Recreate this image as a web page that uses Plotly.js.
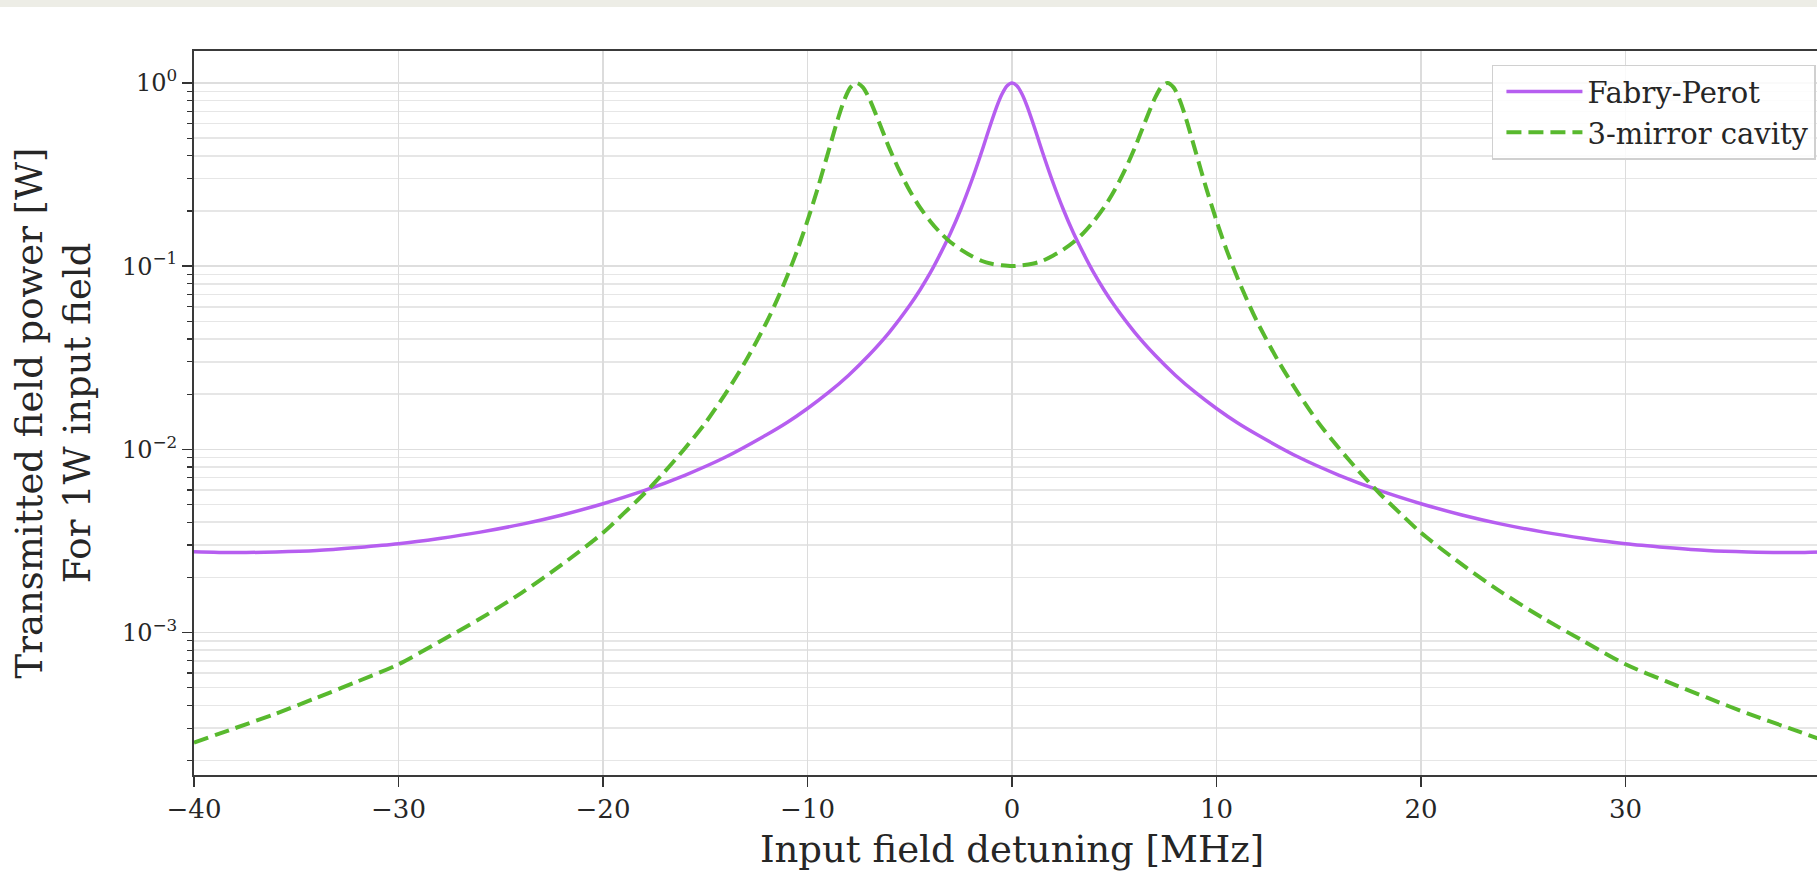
<!DOCTYPE html>
<html>
<head>
<meta charset="utf-8">
<script src="https://cdn.plot.ly/plotly-3.0.1.min.js"></script>
<style>
  html, body { margin: 0; padding: 0; overflow: hidden; background: #ffffff; width: 1817px; height: 892px; }
  #band { position: absolute; left: 0; top: 0; width: 1817px; height: 7px; background: #edede6; z-index: 5; }
  #chart { position: absolute; left: 0; top: 0; width: 1850px; height: 892px; }
</style>
</head>
<body>
<div id="band"></div>
<div id="chart"></div>
<script>
// Detuning (MHz) and transmitted power (W)
const fpDetuning = [-40,-38,-36,-34,-32,-30,-28,-26,-24,-22,-20,-18,-16,-14,-12,-11,-10,-9,-8,-7,-6,-5,-4.5,-4,-3.5,-3,-2.5,-2,-1.5,-1.25,-1,-0.75,-0.5,-0.25,0,0.25,0.5,0.75,1,1.25,1.5,2,2.5,3,3.5,4,4.5,5,6,7,8,9,10,11,12,14,16,18,20,22,24,26,28,30,32,34,36,38,40];
const fpPower = [0.00276,0.00273,0.00275,0.0028,0.00291,0.00305,0.00326,0.00353,0.00389,0.00438,0.00504,0.00594,0.00721,0.00907,0.012,0.014,0.0167,0.0203,0.0253,0.0326,0.0435,0.0611,0.0741,0.0918,0.117,0.152,0.205,0.287,0.416,0.507,0.616,0.741,0.865,0.963,1.0,0.963,0.865,0.741,0.616,0.507,0.416,0.287,0.205,0.152,0.117,0.0918,0.0741,0.0611,0.0435,0.0326,0.0253,0.0203,0.0167,0.014,0.012,0.00907,0.00721,0.00594,0.00504,0.00438,0.00389,0.00353,0.00326,0.00305,0.00291,0.0028,0.00275,0.00273,0.00276];

const cavDetuning = [-40,-38,-36,-34,-32,-30,-28,-26,-24,-22,-20,-19,-18,-17,-16,-15,-14,-13,-12,-11.5,-11,-10.5,-10,-9.5,-9,-8.5,-8.2,-7.9,-7.6,-7.3,-7.0,-6.5,-6,-5.5,-5,-4.5,-4,-3.5,-3,-2.5,-2,-1.5,-1,-0.5,0,0.5,1,1.5,2,2.5,3,3.5,4,4.5,5,5.5,6,6.5,7.0,7.3,7.6,7.9,8.2,8.5,9,9.5,10,10.5,11,11.5,12,13,14,15,16,17,18,19,20,22,24,26,28,30,32,34,36,38,40];
const cavPower = [0.00025,0.0003,0.00036,0.00044,0.00054,0.00067,0.00089,0.00119,0.00164,0.00235,0.0035,0.00445,0.0057,0.0075,0.0101,0.0139,0.0202,0.0306,0.0494,0.065,0.0877,0.122,0.177,0.266,0.414,0.644,0.808,0.946,1.0,0.95,0.831,0.61,0.441,0.331,0.258,0.209,0.176,0.152,0.135,0.123,0.114,0.107,0.103,0.101,0.1,0.101,0.103,0.107,0.114,0.123,0.135,0.152,0.176,0.209,0.258,0.331,0.441,0.61,0.831,0.95,1.0,0.946,0.808,0.644,0.414,0.266,0.177,0.122,0.0877,0.065,0.0494,0.0306,0.0202,0.0139,0.0101,0.0075,0.0057,0.00445,0.0035,0.00235,0.00164,0.00119,0.00089,0.00067,0.00054,0.00044,0.00036,0.0003,0.00025];

const seriesNames = ['Fabry-Perot', '3-mirror cavity'];
const xTickVals = [-40,-30,-20,-10,0,10,20,30];
const xTickText = ['\u221240','\u221230','\u221220','\u221210','0','10','20','30'];
const yTickVals = [1, 0.1, 0.01, 0.001];
const yTickText = ['10<sup>0</sup>','10<sup>\u22121</sup>','10<sup>\u22122</sup>','10<sup>\u22123</sup>'];

const minorVals = [];
for (let e = -4; e <= 0; e++) {
  for (let m = 2; m <= 9; m++) minorVals.push(m * Math.pow(10, e));
}

const FONT = 'DejaVu Serif, Liberation Serif, serif';

const traces = [
  {
    x: fpDetuning, y: fpPower, name: seriesNames[0], type: 'scatter', mode: 'lines',
    line: {color: '#b65ef0', width: 3.5, shape: 'spline', smoothing: 0.8},
    hoverinfo: 'skip'
  },
  {
    x: cavDetuning, y: cavPower, name: seriesNames[1], type: 'scatter', mode: 'lines',
    line: {color: '#58b92e', width: 4, dash: '15px,7px', shape: 'spline', smoothing: 0.8},
    hoverinfo: 'skip'
  }
];

const layout = {
  width: 1850, height: 892,
  margin: {l: 194, r: 20, t: 51, b: 117},
  paper_bgcolor: 'rgba(0,0,0,0)',
  plot_bgcolor: '#ffffff',
  font: {family: FONT, color: '#262626', size: 24},
  showlegend: true,
  legend: {
    x: 0.9914, y: 0.981, xanchor: 'right', yanchor: 'top',
    bgcolor: 'rgba(255,255,255,0.85)', bordercolor: '#d0d0d0', borderwidth: 1.5,
    font: {family: FONT, size: 29, color: '#262626'},
    itemwidth: 76, indentation: 8, tracegroupgap: 0
  },
  xaxis: {
    range: [-40, 40], type: 'linear',
    tickmode: 'array', tickvals: xTickVals, ticktext: xTickText,
    ticks: 'outside', ticklen: 10, tickwidth: 1.5, tickcolor: '#333333',
    tickfont: {family: FONT, size: 26, color: '#262626'},
    showgrid: true, gridcolor: '#dcdcdc', gridwidth: 1.2,
    showline: true, linecolor: '#3a3a3a', linewidth: 2, mirror: true,
    zeroline: false,
    title: {text: 'Input field detuning [MHz]', font: {family: FONT, size: 37, color: '#262626'}, standoff: 13}
  },
  yaxis: {
    type: 'log', range: [-3.7785, 0.1746],
    tickmode: 'array', tickvals: yTickVals, ticktext: yTickText,
    ticks: 'outside', ticklen: 10, tickwidth: 1.5, tickcolor: '#333333',
    tickfont: {family: FONT, size: 24, color: '#262626'},
    showgrid: true, gridcolor: '#dedede', gridwidth: 1.5,
    minor: {tickmode: 'array', tickvals: minorVals, ticks: 'outside', ticklen: 5, tickwidth: 1.2, tickcolor: '#333333', showgrid: true, gridcolor: '#e6e6e6', gridwidth: 1.5},
    showline: true, linecolor: '#3a3a3a', linewidth: 2, mirror: true,
    zeroline: false,
    title: {text: 'Transmitted field power [W]<br>For 1W input field', font: {family: FONT, size: 37, color: '#262626'}, standoff: 20}
  }
};

Plotly.newPlot('chart', traces, layout, {displayModeBar: false, staticPlot: true});
</script>
</body>
</html>
